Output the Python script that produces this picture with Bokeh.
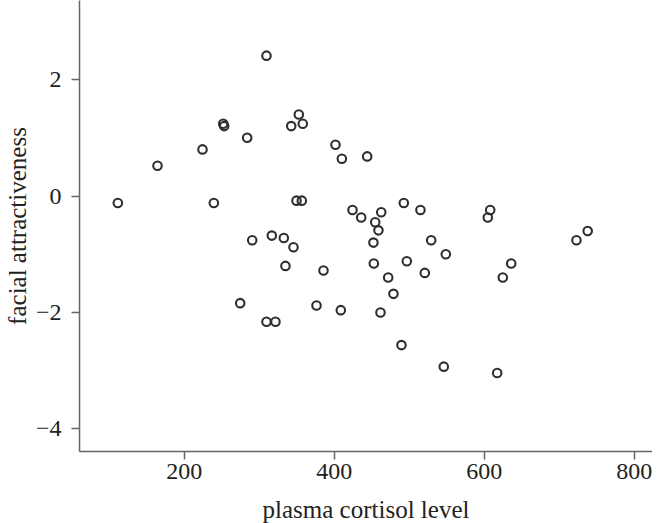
from bokeh.plotting import figure
from bokeh.models import ColumnDataSource, Range1d, FixedTicker
from bokeh.embed import file_html
from bokeh.resources import INLINE

cortisol = [309.7, 352.8, 342.7, 358.1, 252.0, 253.3, 284.0, 224.4, 164.4, 401.7,
            410.2, 111.5, 239.5, 349.7, 356.8, 424.4, 444.0, 290.7, 316.8, 332.8,
            345.7, 335.0, 385.7, 274.7, 309.7, 321.7, 376.4, 408.8, 436.0, 462.7,
            454.7, 459.0, 492.8, 515.0, 608.0, 604.8, 738.0, 723.0, 452.3, 529.3,
            548.8, 452.8, 496.8, 520.8, 636.0, 624.8, 472.0, 479.0, 461.7, 489.7,
            546.1, 617.3]
attractiveness = [2.41, 1.40, 1.20, 1.24, 1.24, 1.20, 1.00, 0.80, 0.52, 0.88,
                  0.64, -0.12, -0.12, -0.08, -0.08, -0.24, 0.68, -0.76, -0.68, -0.72,
                  -0.88, -1.20, -1.28, -1.84, -2.16, -2.16, -1.88, -1.96, -0.37, -0.28,
                  -0.45, -0.59, -0.12, -0.24, -0.24, -0.37, -0.60, -0.76, -0.80, -0.76,
                  -1.00, -1.16, -1.12, -1.32, -1.16, -1.40, -1.40, -1.68, -2.00, -2.56,
                  -2.93, -3.04]
x_ticks = [200, 400, 600, 800]
y_ticks = [-4, -2, 0, 2]
y_tick_labels = {-4: "\u22124", -2: "\u22122", 0: "0", 2: "2"}

src = ColumnDataSource(dict(x=cortisol, y=attractiveness))

p = figure(frame_width=573, frame_height=451, output_backend="svg",
           toolbar_location=None,
           x_range=Range1d(60.4, 824.4), y_range=Range1d(-4.387, 3.357),
           min_border_left=73, min_border_right=0, min_border_top=0,
           min_border_bottom=0)

p.scatter("x", "y", source=src, size=8.5, marker="circle",
          fill_color=None, line_color="#2e2e2e", line_width=2.1)

font = "Liberation Serif"
p.xgrid.visible = False
p.ygrid.visible = False
p.outline_line_color = None
p.background_fill_color = "white"
p.border_fill_color = "white"

for ax in (p.xaxis[0], p.yaxis[0]):
    ax.axis_line_color = "#666666"
    ax.axis_line_width = 1.5
    ax.major_tick_line_color = "#666666"
    ax.major_tick_line_width = 1.5
    ax.major_tick_out = 8
    ax.major_tick_in = 0
    ax.minor_tick_line_color = None
    ax.major_label_text_font = font
    ax.major_label_text_font_size = "24px"
    ax.major_label_text_color = "#222222"
    ax.axis_label_text_font = font
    ax.axis_label_text_font_size = "25px"
    ax.axis_label_text_font_style = "normal"
    ax.axis_label_text_color = "#222222"

p.xaxis[0].ticker = FixedTicker(ticks=x_ticks)
p.yaxis[0].ticker = FixedTicker(ticks=y_ticks)
p.yaxis[0].major_label_overrides = y_tick_labels
p.xaxis[0].axis_label = "plasma cortisol level"
p.yaxis[0].axis_label = "facial attractiveness"
p.xaxis[0].major_label_standoff = 4
p.xaxis[0].axis_label_standoff = 14
p.yaxis[0].major_label_standoff = 10
p.yaxis[0].axis_label_standoff = 2

open("out.html", "w").write(file_html(p, INLINE))
